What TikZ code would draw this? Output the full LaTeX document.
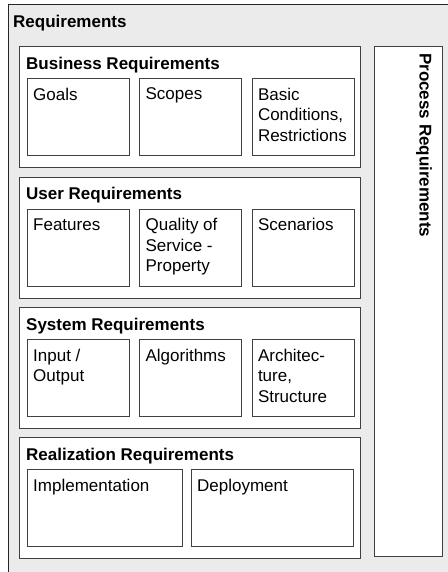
\documentclass[tikz,border=0pt]{standalone}
\usepackage{fontspec}
\setmainfont{Liberation Sans}
\usepackage{tikz}
\usetikzlibrary{positioning}
\newcommand{\reqfont}{\fontsize{17}{20.5}\selectfont}

\begin{document}
\begin{tikzpicture}[x=1pt, y=-1pt, font=\reqfont,
    outerframe/.style={draw=black!85, line width=1.3pt, fill=black!8, anchor=north west, minimum width=470, minimum height=600},
    group/.style={draw=black!75, line width=0.9pt, fill=white, anchor=north west, minimum width=341, minimum height=121},
    itembox/.style={draw=black!75, line width=0.9pt, fill=white, minimum width=102, minimum height=77},
    grouptitle/.style={anchor=north west, font=\reqfont\bfseries, text height=12pt, inner xsep=7pt, inner ysep=11pt},
    caption/.style={anchor=north west, align=left, inner xsep=6pt, inner ysep=9.7pt},
    ptitle/.style={rotate=-90, anchor=north west, font=\reqfont\bfseries, text height=12pt, inner xsep=7pt, inner ysep=11.5pt}]
    \useasboundingbox (0,0) rectangle (447,572);
    \node[outerframe, label={[grouptitle, inner xsep=5pt]north west:Requirements}] (req) at (8,4) {};
    \node[group, label={[grouptitle]north west:Business Requirements}] (business) at (19,46) {};
    \node[group, below=8.7pt of business, label={[grouptitle]north west:User Requirements}] (user) {};
    \node[group, below=8.7pt of user, label={[grouptitle]north west:System Requirements}] (system) {};
    \node[group, below=8pt of system, label={[grouptitle]north west:Realization Requirements}] (realization) {};
    \node[group, minimum width=68.5, minimum height=510, below right=0pt and 13pt of business.north east] (process) {};
    \node[ptitle] (processtitle) at (process.north east) {Process Requirements};

    \node[itembox, below right=32pt and 8pt of business.north west, label={[caption]north west:Goals}] (goals) {};
    \node[itembox, right=9.5pt of goals, label={[caption]north west:Scopes}] (scopes) {};
    \node[itembox, right=9.5pt of scopes, label={[caption]north west:Basic\\Conditions,\\Restrictions}] (basic) {};

    \node[itembox, below right=32pt and 8pt of user.north west, label={[caption]north west:Features}] (features) {};
    \node[itembox, right=9.5pt of features, label={[caption]north west:Quality of\\Service -\\Property}] (quality) {};
    \node[itembox, right=9.5pt of quality, label={[caption]north west:Scenarios}] (scenarios) {};

    \node[itembox, below right=32pt and 8pt of system.north west, label={[caption]north west:Input /\\Output}] (io) {};
    \node[itembox, right=9.5pt of io, label={[caption]north west:Algorithms}] (algorithms) {};
    \node[itembox, right=9.5pt of algorithms, label={[caption]north west:Architec-\\ture,\\Structure}] (architecture) {};

    \node[itembox, minimum width=155, below right=32pt and 8pt of realization.north west, label={[caption]north west:Implementation}] (implementation) {};
    \node[itembox, minimum width=162.5, right=8pt of implementation, label={[caption]north west:Deployment}] (deployment) {};
\end{tikzpicture}
\end{document}
